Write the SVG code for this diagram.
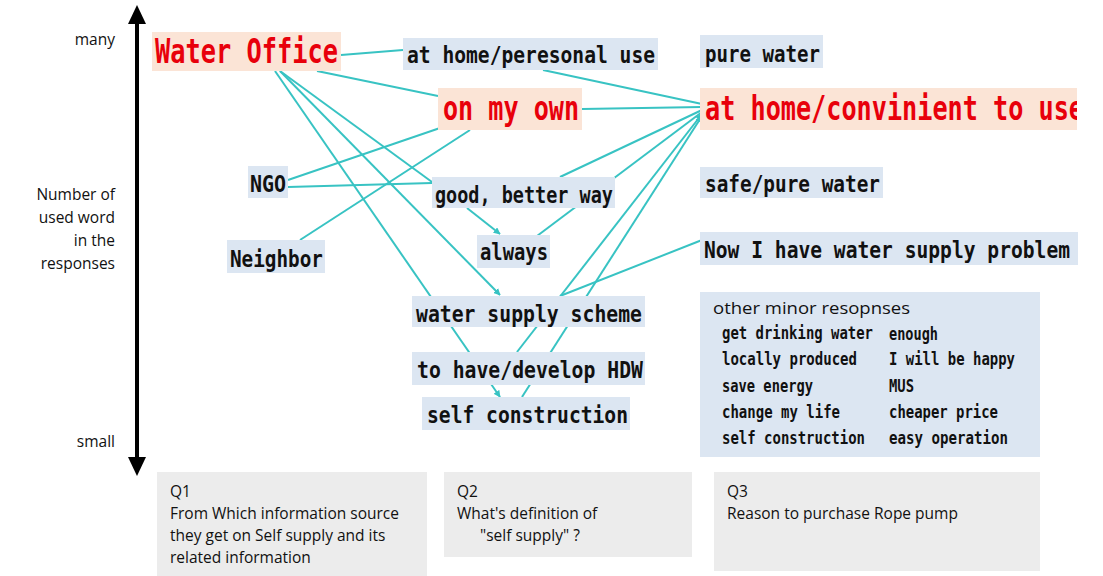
<svg xmlns="http://www.w3.org/2000/svg" width="1103" height="576" viewBox="0 0 1103 576">
<style>
.bg{fill:#ffffff}
.blue{fill:#dce6f2}
.peach{fill:#fbe4d6}
.gray{fill:#ececec}
.g{font-family:"DejaVu Sans Mono","Liberation Mono",monospace;font-weight:bold;fill:#111111}
.n{font-size:19.6px}
.r{font-size:25.4px;fill:#e8000b}
.m{font-size:14px}
.s{font-family:"Open Sans","Noto Sans",sans-serif;font-size:15.5px;fill:#111111}
.ax{font-family:"Open Sans","Noto Sans",sans-serif;font-size:15.5px;fill:#111111;text-anchor:end}
.c line{stroke:#38c3c3;stroke-width:2;fill:none}
</style>
<defs>
<marker id="ah" viewBox="0 0 10 10" refX="9" refY="5" markerWidth="7" markerHeight="7" markerUnits="userSpaceOnUse" orient="auto">
<path d="M0,0 L10,5 L0,10 z" fill="#38c3c3"/>
</marker>
<clipPath id="clipConv"><rect x="700" y="86" width="377" height="46"/></clipPath>
</defs>
<rect class="bg" x="0" y="0" width="1103" height="576"/>

<g id="axis">
<line x1="137" y1="20" x2="137" y2="460" stroke="#000" stroke-width="4"/>
<polygon points="137,5 128,24 146,24" fill="#000"/>
<polygon points="137,476 128,457 146,457" fill="#000"/>
<text class="ax" x="115" y="45">many</text>
<text class="ax" x="115" y="200">Number of</text>
<text class="ax" x="115" y="223">used word</text>
<text class="ax" x="115" y="246">in the</text>
<text class="ax" x="115" y="269">responses</text>
<text class="ax" x="115" y="447">small</text>
</g>

<g id="connectors" class="c">
<line x1="341" y1="55" x2="403" y2="50"/>
<line x1="317" y1="71" x2="438" y2="96"/>
<line x1="280" y1="71" x2="432" y2="182"/>
<line x1="280" y1="71" x2="500" y2="295" marker-end="url(#ah)"/>
<line x1="275" y1="71" x2="500" y2="397" marker-end="url(#ah)"/>
<line x1="288" y1="180" x2="440" y2="128"/>
<line x1="288" y1="187" x2="432" y2="183"/>
<line x1="300" y1="240" x2="470" y2="130"/>
<line x1="543" y1="70" x2="702" y2="104"/>
<line x1="582" y1="109" x2="702" y2="107"/>
<line x1="560" y1="177" x2="702" y2="110"/>
<line x1="537" y1="236" x2="702" y2="112"/>
<line x1="517" y1="352" x2="702" y2="114" marker-end="url(#ah)"/>
<line x1="522" y1="397" x2="702" y2="116" marker-end="url(#ah)"/>
<line x1="560" y1="296" x2="702" y2="240"/>
<line x1="467" y1="208" x2="500" y2="234" marker-end="url(#ah)"/>
</g>

<g id="water-office">
<rect class="peach" x="152" y="32" width="189" height="39"/>
<text class="g r" transform="translate(155,63) scale(1,1.32)" x="0" y="0" textLength="183" lengthAdjust="spacingAndGlyphs">Water Office</text>
</g>
<g id="ngo">
<rect class="blue" x="248" y="166" width="40" height="32"/>
<text class="g n" transform="translate(250,192) scale(1,1.15)" x="0" y="0" textLength="36" lengthAdjust="spacingAndGlyphs">NGO</text>
</g>
<g id="neighbor">
<rect class="blue" x="227" y="240" width="98" height="33"/>
<text class="g n" transform="translate(230,267) scale(1,1.15)" x="0" y="0" textLength="93" lengthAdjust="spacingAndGlyphs">Neighbor</text>
</g>
<g id="at-home-personal">
<rect class="blue" x="403" y="38" width="255" height="32"/>
<text class="g n" transform="translate(407,63) scale(1,1.15)" x="0" y="0" textLength="248" lengthAdjust="spacingAndGlyphs">at home/peresonal use</text>
</g>
<g id="on-my-own">
<rect class="peach" x="438" y="88" width="144" height="42"/>
<text class="g r" transform="translate(443,120) scale(1,1.32)" x="0" y="0" textLength="136" lengthAdjust="spacingAndGlyphs">on my own</text>
</g>
<g id="good-better-way">
<rect class="blue" x="432" y="177" width="183" height="31"/>
<text class="g n" transform="translate(435,203) scale(1,1.15)" x="0" y="0" textLength="178" lengthAdjust="spacingAndGlyphs">good, better way</text>
</g>
<g id="always">
<rect class="blue" x="477" y="235" width="73" height="33"/>
<text class="g n" transform="translate(480,260) scale(1,1.15)" x="0" y="0" textLength="68" lengthAdjust="spacingAndGlyphs">always</text>
</g>
<g id="water-supply-scheme">
<rect class="blue" x="412" y="296" width="233" height="31"/>
<text class="g n" transform="translate(416,322) scale(1,1.15)" x="0" y="0" textLength="226" lengthAdjust="spacingAndGlyphs">water supply scheme</text>
</g>
<g id="have-develop-hdw">
<rect class="blue" x="412" y="352" width="233" height="33"/>
<text class="g n" transform="translate(417,378) scale(1,1.15)" x="0" y="0" textLength="226" lengthAdjust="spacingAndGlyphs">to have/develop HDW</text>
</g>
<g id="self-construction">
<rect class="blue" x="422" y="397" width="208" height="33"/>
<text class="g n" transform="translate(427,423) scale(1,1.15)" x="0" y="0" textLength="201" lengthAdjust="spacingAndGlyphs">self construction</text>
</g>
<g id="pure-water">
<rect class="blue" x="700" y="35" width="123" height="33"/>
<text class="g n" transform="translate(705,62) scale(1,1.15)" x="0" y="0" textLength="115" lengthAdjust="spacingAndGlyphs">pure water</text>
</g>
<g id="at-home-convenient">
<rect class="peach" x="700" y="88" width="377" height="42"/>
<g clip-path="url(#clipConv)">
<text class="g r" transform="translate(705,120) scale(1,1.32)" x="0" y="0" textLength="379" lengthAdjust="spacingAndGlyphs">at home/convinient to use</text>
</g>
</g>
<g id="safe-pure-water">
<rect class="blue" x="700" y="167" width="183" height="31"/>
<text class="g n" transform="translate(705,192) scale(1,1.15)" x="0" y="0" textLength="175" lengthAdjust="spacingAndGlyphs">safe/pure water</text>
</g>
<g id="water-supply-problem">
<rect class="blue" x="700" y="232" width="378" height="33"/>
<text class="g n" transform="translate(704,258) scale(1,1.15)" x="0" y="0" textLength="366" lengthAdjust="spacingAndGlyphs">Now I have water supply problem</text>
</g>
<g id="minor-responses">
<rect class="blue" x="700" y="292" width="340" height="165"/>
<text class="s" x="713" y="314" style="font-size:16.5px" textLength="197" lengthAdjust="spacingAndGlyphs">other minor resopnses</text>
<text class="g m" transform="translate(722,339) scale(1,1.2)" x="0" y="0" textLength="151" lengthAdjust="spacingAndGlyphs">get drinking water</text>
<text class="g m" transform="translate(722,365) scale(1,1.2)" x="0" y="0" textLength="135" lengthAdjust="spacingAndGlyphs">locally produced</text>
<text class="g m" transform="translate(722,392) scale(1,1.2)" x="0" y="0" textLength="91" lengthAdjust="spacingAndGlyphs">save energy</text>
<text class="g m" transform="translate(722,418) scale(1,1.2)" x="0" y="0" textLength="118" lengthAdjust="spacingAndGlyphs">change my life</text>
<text class="g m" transform="translate(722,444) scale(1,1.2)" x="0" y="0" textLength="143" lengthAdjust="spacingAndGlyphs">self construction</text>
<text class="g m" transform="translate(889,340) scale(1,1.2)" x="0" y="0" textLength="49" lengthAdjust="spacingAndGlyphs">enough</text>
<text class="g m" transform="translate(889,365) scale(1,1.2)" x="0" y="0" textLength="126" lengthAdjust="spacingAndGlyphs">I will be happy</text>
<text class="g m" transform="translate(889,392) scale(1,1.2)" x="0" y="0" textLength="25" lengthAdjust="spacingAndGlyphs">MUS</text>
<text class="g m" transform="translate(889,418) scale(1,1.2)" x="0" y="0" textLength="109" lengthAdjust="spacingAndGlyphs">cheaper price</text>
<text class="g m" transform="translate(889,444) scale(1,1.2)" x="0" y="0" textLength="119" lengthAdjust="spacingAndGlyphs">easy operation</text>
</g>
<g id="q1">
<rect class="gray" x="157" y="472" width="270" height="104"/>
<text class="s" x="170" y="497">Q1</text>
<text class="s" x="170" y="519">From Which information source</text>
<text class="s" x="170" y="541">they get on Self supply and its</text>
<text class="s" x="170" y="563">related information</text>
</g>
<g id="q2">
<rect class="gray" x="444" y="472" width="248" height="85"/>
<text class="s" x="457" y="497">Q2</text>
<text class="s" x="457" y="519">What's definition of</text>
<text class="s" x="480" y="541">"self supply" ?</text>
</g>
<g id="q3">
<rect class="gray" x="714" y="472" width="326" height="99"/>
<text class="s" x="727" y="497">Q3</text>
<text class="s" x="727" y="519">Reason to purchase Rope pump</text>
</g>
</svg>
